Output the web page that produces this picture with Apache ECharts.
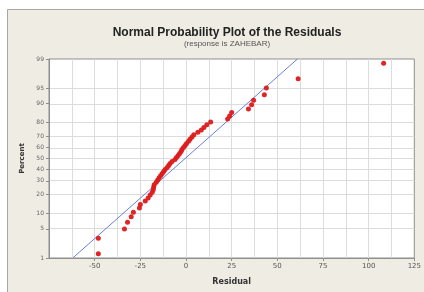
<!DOCTYPE html>
<html lang="en">
<head>
    <meta charset="UTF-8">
    <title>Normal Probability Plot of the Residuals</title>
    <script src="https://cdn.jsdelivr.net/npm/echarts@6/dist/echarts.min.js"></script>
    <style>
        html, body { margin: 0; padding: 0; background: #ffffff; }
    </style>
</head>
<body>
<div id="main" style="width: 424px;height:292px;"></div>
<script>
    // residuals (sorted) and their plotted percent
    var residuals = [-48, -48, -33.7, -32, -30, -28.8, -25.5, -25, -22.3, -20.7,
        -19.6, -18.5, -17.9, -17.7, -17.4, -16.3, -15.5, -14.7, -13.9, -13.0,
        -12.2, -11.4, -10.3, -9.5, -8.7, -7.6, -6.0, -5.2, -4.3, -3.5,
        -2.7, -2.2, -1.4, -0.5, 0.3, 1.4, 2.2, 3.3, 4.3, 6.5,
        8.4, 9.8, 11.4, 13.5, 22.8, 23.9, 25.0, 34.2, 35.9, 37.0,
        42.9, 44.0, 61.4, 108.2];
    var percents = [1.29, 3.12, 4.96, 6.80, 8.64, 10.48, 12.32, 14.15, 15.99, 17.83,
        19.67, 21.51, 23.35, 25.18, 27.02, 28.86, 30.70, 32.54, 34.38, 36.21,
        38.05, 39.89, 41.73, 43.57, 45.40, 47.24, 49.08, 50.92, 52.76, 54.60,
        56.43, 58.27, 60.11, 61.95, 63.79, 65.62, 67.46, 69.30, 71.14, 72.98,
        74.82, 76.65, 78.49, 80.33, 82.17, 84.01, 85.85, 87.68, 89.52, 91.36,
        93.20, 95.04, 96.88, 98.71];

    // fitted normal line (two ends)
    var fitResiduals = [-62, 61];
    var fitPercents = [1, 99];

    var percentTicks = [1, 5, 10, 20, 30, 40, 50, 60, 70, 80, 90, 95, 99];
    var residualTicks = [-50, -25, 0, 25, 50, 75, 100, 125];
    var residualGrid = [-62.5, -50, -37.5, -25, -12.5, 0, 12.5, 25, 37.5, 50, 62.5, 75, 87.5, 100, 112.5];

    // inverse normal cdf (Acklam)
    function probit(p) {
        var a = [-39.69683028665376, 220.9460984245205, -275.9285104469687, 138.3577518672690, -30.66479806614716, 2.506628277459239];
        var b = [-54.47609879822406, 161.5858368580409, -155.6989798598866, 66.80131188771972, -13.28068155288572];
        var c = [-0.007784894002430293, -0.3223964580411365, -2.400758277161838, -2.549732539343734, 4.374664141464968, 2.938163982698783];
        var d = [0.007784695709041462, 0.3224671290700398, 2.445134137142996, 3.754408661907416];
        var q, r;
        if (p < 0.02425) {
            q = Math.sqrt(-2 * Math.log(p));
            return (((((c[0] * q + c[1]) * q + c[2]) * q + c[3]) * q + c[4]) * q + c[5]) /
                ((((d[0] * q + d[1]) * q + d[2]) * q + d[3]) * q + 1);
        }
        if (p > 1 - 0.02425) {
            q = Math.sqrt(-2 * Math.log(1 - p));
            return -(((((c[0] * q + c[1]) * q + c[2]) * q + c[3]) * q + c[4]) * q + c[5]) /
                ((((d[0] * q + d[1]) * q + d[2]) * q + d[3]) * q + 1);
        }
        q = p - 0.5;
        r = q * q;
        return (((((a[0] * r + a[1]) * r + a[2]) * r + a[3]) * r + a[4]) * r + a[5]) * q /
            (((((b[0] * r + b[1]) * r + b[2]) * r + b[3]) * r + b[4]) * r + 1);
    }

    var yTickVals = percentTicks.map(function (p) { return probit(p / 100); });
    var points = residuals.map(function (r, i) { return [r, probit(percents[i] / 100)]; });
    var fitData = fitResiduals.map(function (r, i) { return [r, probit(fitPercents[i] / 100)]; });

    // grid lines: horizontal at percent ticks, vertical every 12.5
    var gridLines = yTickVals.map(function (v) { return {yAxis: v}; })
        .concat(residualGrid.map(function (v) { return {xAxis: v}; }));

    var labelFont = 'Tahoma, "DejaVu Sans", sans-serif';

    var chart = echarts.init(document.getElementById('main'));
    var option = {
        backgroundColor: '#ffffff',
        animation: false,
        graphic: [{
            type: 'rect',
            z: -10,
            shape: {x: 7.5, y: 9.5, width: 430, height: 300},
            style: {fill: '#efece3', stroke: '#a9a7a0', lineWidth: 1}
        }],
        title: {
            text: 'Normal Probability Plot of the Residuals',
            subtext: '(response is ZAHEBAR)',
            left: 222,
            textAlign: 'center',
            top: 22,
            itemGap: 1,
            textStyle: {fontFamily: '"Liberation Sans", Arial, sans-serif', fontSize: 12, fontWeight: 'bold', color: '#222222'},
            subtextStyle: {fontFamily: '"Liberation Sans", Arial, sans-serif', fontSize: 8, color: '#555555'}
        },
        grid: {
            left: 49, right: 7, top: 59, bottom: 34,
            show: true, backgroundColor: '#ffffff', borderColor: '#8f8f8f', borderWidth: 1
        },
        xAxis: {
            type: 'value',
            min: -75,
            max: 125,
            interval: 12.5,
            name: 'Residual',
            nameLocation: 'middle',
            nameGap: 20,
            nameTextStyle: {fontFamily: labelFont, fontSize: 8, fontWeight: 'bold', color: '#333333'},
            axisLine: {show: true, onZero: false, lineStyle: {color: '#8f8f8f'}},
            axisTick: {show: true, length: 3, customValues: residualTicks, lineStyle: {color: '#8f8f8f'}},
            axisLabel: {customValues: residualTicks, fontFamily: labelFont, fontSize: 7, color: '#555555', margin: 5},
            splitLine: {show: false}
        },
        yAxis: {
            type: 'value',
            min: yTickVals[0],
            max: yTickVals[yTickVals.length - 1],
            name: 'Percent',
            nameLocation: 'middle',
            nameGap: 22,
            nameTextStyle: {fontFamily: labelFont, fontSize: 7, fontWeight: 'bold', color: '#333333'},
            axisLine: {show: true, onZero: false, lineStyle: {color: '#8f8f8f'}},
            axisTick: {show: true, length: 3, customValues: yTickVals, lineStyle: {color: '#8f8f8f'}},
            axisLabel: {
                customValues: yTickVals,
                fontFamily: labelFont, fontSize: 6, color: '#666666', margin: 5,
                formatter: function (v) {
                    var best = 0;
                    for (var i = 1; i < yTickVals.length; i++) {
                        if (Math.abs(yTickVals[i] - v) < Math.abs(yTickVals[best] - v)) best = i;
                    }
                    return String(percentTicks[best]);
                }
            },
            splitLine: {show: false}
        },
        series: [{
            type: 'line',
            data: [],
            silent: true,
            z: 0,
            markLine: {
                silent: true,
                symbol: 'none',
                z: 0,
                label: {show: false},
                lineStyle: {color: '#dcdcdc', width: 1, type: 'solid'},
                data: gridLines
            }
        }, {
            type: 'line',
            data: fitData,
            symbol: 'none',
            silent: true,
            lineStyle: {color: '#6b7fd9', width: 1},
            z: 2
        }, {
            type: 'scatter',
            data: points,
            symbol: 'circle',
            symbolSize: 5,
            itemStyle: {color: '#dc1a1a', opacity: 0.95},
            z: 3
        }]
    };
    chart.setOption(option);
</script>
</body>
</html>
